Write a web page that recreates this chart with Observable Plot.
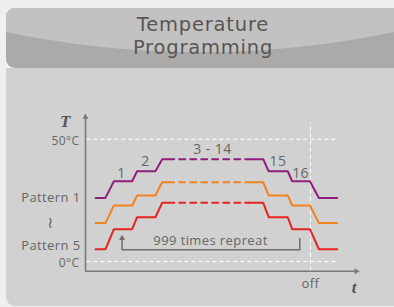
<!DOCTYPE html>
<html><head><meta charset="utf-8">
<script src="https://cdn.jsdelivr.net/npm/d3@7"></script>
<script src="https://cdn.jsdelivr.net/npm/@observablehq/plot@0.6"></script>
<style>
html,body{margin:0;padding:0;background:#efefef;width:394px;height:307px;overflow:hidden;font-family:"Open Sans",sans-serif;}
#header{position:absolute;left:6px;top:8px;width:400px;height:60px;background:#abaaa8;overflow:hidden;border-radius:9px;box-shadow:inset 0 1px 0 #a8a8a8;}
#arc{position:absolute;width:1902px;height:1902px;border-radius:50%;background:#c2c2c2;left:-757px;top:-1858px;}
.tl{position:absolute;left:0;width:394px;text-align:center;font-family:"DejaVu Sans",sans-serif;font-size:19.5px;line-height:20px;height:20px;color:#595554;letter-spacing:0.8px;}
#body{position:absolute;left:6px;top:68px;width:400px;height:238px;background:#d1d1d1;border-radius:0 0 9px 9px;}
#chart{position:absolute;left:0;top:69px;}
</style>
</head><body>
<div id="header"><div id="arc"></div>
<div class="tl" style="top:7.25px">Temperature</div>
<div class="tl" style="top:30.25px">Programming</div>
</div>
<div id="body"></div>
<div id="chart"></div>
<script>
// ---- data (time in arbitrary units, temperature in °C) ----
const tempTicks = [0, 50];
const tempTickLabels = ["0°C", "50°C"];
const patternLabels = ["Pattern 1", "Pattern 5"];
const riseT = [3.7, 7.3, 10.4, 17.1, 18.9, 25.6, 28.1, 32.5];
const fallT = [59.7, 65.1, 67.1, 74.1, 75.7, 82.2, 85.5, 92.2];
const purpleLevels = [26.0, 32.8, 36.9, 41.8];
const orangeLevels = [15.7, 22.9, 27.0, 32.4];
const redLevels = [5.0, 13.2, 18.1, 24.0];
const stepLabels = ["1", "2", "3 - 14", "15", "16"];
const stepT = [13.2, 22.0, 46.5, 70.5, 78.8];
const stepTemp = [35.8, 40.7, 45.6, 40.7, 35.8];
const offT = 82.4;
const repeatLabel = "999 times repreat";
const repeatFromT = 13.4, repeatToT = 78.5;
const repeatBase = 4.8, repeatLeftTop = 9.5, repeatRightTop = 9.4;

const series = [
  {levels: purpleLevels, color: "#8f1f7f"},
  {levels: orangeLevels, color: "#f0821f"},
  {levels: redLevels, color: "#e52421"}
];
const riseIdx = [0, 0, 1, 1, 2, 2, 3, 3];
const fallIdx = [3, 3, 2, 2, 1, 1, 0, 0];

const axisColor = "#7a7a7a", textColor = "#666";
const marks = [
  Plot.ruleY(tempTicks, {y: d => d, x1: 0.5, x2: 92.3, stroke: "#fff", strokeWidth: 1, strokeDasharray: "4,3"}),
  Plot.ruleX([offT], {x: d => d, y1: -4, y2: 56.5, stroke: "#fff", strokeWidth: 1, strokeDasharray: "4,3"}),
  Plot.ruleX([0], {x: d => d, y1: -4, y2: 59.1, stroke: axisColor, strokeWidth: 1.6}),
  Plot.ruleY([-4], {y: d => d, x1: 0, x2: 99.2, stroke: axisColor, strokeWidth: 1.6}),
  Plot.dot([{x: 0, y: 59.1}], {x: "x", y: "y", symbol: "triangle", r: 2.2, fill: axisColor, stroke: "none"}),
  Plot.dot([{x: 99.2, y: -4}], {x: "x", y: "y", symbol: "triangle", r: 2.2, rotate: 90, fill: axisColor, stroke: "none"})
];
for (const s of series) {
  const rise = riseT.map((t, i) => ({t, temp: s.levels[riseIdx[i]]}));
  const fall = fallT.map((t, i) => ({t, temp: s.levels[fallIdx[i]]}));
  const mid = [{t: riseT[riseT.length - 1], temp: s.levels[3]}, {t: fallT[0], temp: s.levels[3]}];
  marks.push(Plot.line(rise, {x: "t", y: "temp", stroke: s.color, strokeWidth: 2, strokeLinejoin: "miter"}));
  marks.push(Plot.line(fall, {x: "t", y: "temp", stroke: s.color, strokeWidth: 2, strokeLinejoin: "miter"}));
  marks.push(Plot.line(mid, {x: "t", y: "temp", stroke: s.color, strokeWidth: 2, strokeDasharray: "6,5", strokeDashoffset: 6}));
}
// repeat bracket
marks.push(Plot.line([
  {t: repeatFromT, temp: repeatLeftTop}, {t: repeatFromT, temp: repeatBase},
  {t: repeatToT, temp: repeatBase}, {t: repeatToT, temp: repeatRightTop}
], {x: "t", y: "temp", stroke: "#6e6e6e", strokeWidth: 1.5}));
marks.push(Plot.dot([{t: repeatFromT, temp: repeatLeftTop}], {x: "t", y: "temp", symbol: "triangle", r: 2.2, fill: "#6e6e6e", stroke: "none"}));
// texts
marks.push(Plot.text(tempTicks, {x: 0, y: d => d, text: (d, i) => tempTickLabels[i], dx: -6, dy: 1.5, textAnchor: "end", fontSize: 12, fill: textColor}));
marks.push(Plot.text([patternLabels[0]], {x: 0, y: purpleLevels[0], text: d => d, dx: -5, textAnchor: "end", fontSize: 13, fill: textColor}));
marks.push(Plot.text([patternLabels[1]], {x: 0, y: redLevels[0], text: d => d, dx: -5, dy: -3.5, textAnchor: "end", fontSize: 13, fill: textColor}));
marks.push(Plot.text(["≀"], {x: 0, y: orangeLevels[0], text: d => d, dx: -35, fontSize: 16, fontFamily: "DejaVu Sans", fill: textColor}));
marks.push(Plot.text(stepLabels, {x: (d, i) => stepT[i], y: (d, i) => stepTemp[i], text: d => d, fontSize: 14, fill: textColor}));
marks.push(Plot.text([repeatLabel], {x: 45.8, y: 8.25, text: d => d, fontSize: 13, fill: textColor}));
marks.push(Plot.text(["off"], {x: offT, y: -9.0, text: d => d, fontSize: 13, fill: textColor}));
marks.push(Plot.text(["T"], {x: 0, y: 57.4, text: d => d, dx: -20, fontSize: 17, fontFamily: "Liberation Serif", fontStyle: "italic", fontWeight: "bold", fill: "#555"}));
marks.push(Plot.text(["t"], {x: 98.5, y: -10.7, text: d => d, fontSize: 17, fontFamily: "Liberation Serif", fontStyle: "italic", fontWeight: "bold", fill: "#555"}));

const chart = Plot.plot({
  width: 394, height: 238,
  x: {domain: [0, 100], range: [85, 358], axis: null},
  y: {domain: [-4, 60], range: [201.78, 45.24], axis: null},
  style: "background:transparent;overflow:visible;font-family:'Open Sans',sans-serif;letter-spacing:0.4px;",
  marks
});
document.getElementById("chart").appendChild(chart);
</script>
</body></html>
